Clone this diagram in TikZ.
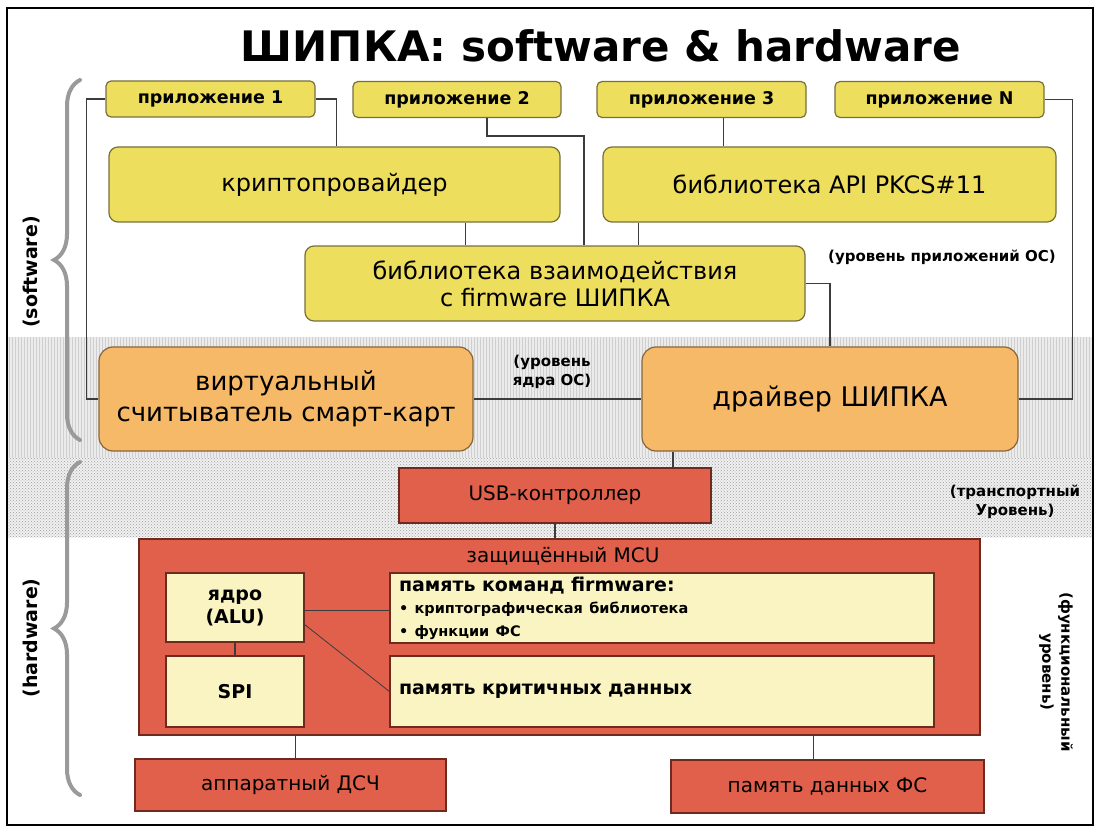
\documentclass[tikz,border=0pt]{standalone}
\usepackage{fontspec}
\setmainfont{DejaVu Sans}
\usetikzlibrary{shapes,arrows,positioning,calc,patterns,decorations.pathreplacing}
\definecolor{appyellow}{HTML}{EEDE5E}
\definecolor{yedge}{HTML}{77703E}
\definecolor{krnorange}{HTML}{F6B967}
\definecolor{oedge}{HTML}{86653C}
\definecolor{hwred}{HTML}{E1604B}
\definecolor{redge}{HTML}{6E2A1E}
\definecolor{memyellow}{HTML}{F9F4C1}
\definecolor{wire}{HTML}{3C3C3C}
\definecolor{bracegray}{HTML}{9A9A9A}

\begin{document}
\begin{tikzpicture}[x=1pt, y=-1pt,
    app/.style={draw=yedge, fill=appyellow, line width=1.2pt, rounded corners=5pt, minimum height=36pt, inner sep=0pt, font=\bfseries\fontsize{17.5}{20}\selectfont},
    lib/.style={draw=yedge, fill=appyellow, line width=1.2pt, rounded corners=9pt, minimum height=75pt, inner sep=0pt, align=center, font=\fontsize{24}{27}\selectfont},
    krn/.style={draw=oedge, fill=krnorange, line width=1.2pt, rounded corners=14pt, minimum height=104pt, inner sep=0pt, align=center, font=\fontsize{27}{31}\selectfont},
    hw/.style={draw=redge, fill=hwred, line width=1.2pt, inner sep=0pt, font=\fontsize{20}{24}\selectfont},
    mem/.style={draw=redge, fill=memyellow, line width=1.2pt, inner sep=0pt, font=\bfseries\fontsize{19}{23}\selectfont},
    note/.style={font=\bfseries\fontsize{15}{19}\selectfont, align=center, inner sep=0pt},
    side/.style={font=\bfseries\fontsize{19}{22}\selectfont, inner sep=0pt},
    link/.style={draw=wire, line width=1.2pt},
    curly/.style={draw=bracegray, line width=4pt, line cap=round, decorate, decoration={brace, amplitude=26pt}}]
\useasboundingbox (0,0) rectangle (1099,826);
\fill[white] (0,0) rectangle (1099,826);
\fill[gray!16] (8,337) rectangle (1092,458);
\fill[pattern=vertical lines, pattern color=gray!38] (8,337) rectangle (1092,458);
\fill[gray!12] (8,458) rectangle (1092,537);
\fill[pattern=crosshatch dots, pattern color=gray!75] (8,458) rectangle (1092,537);
\draw[line width=1.5pt] (7,8) rectangle (1093,825);

\node[font=\bfseries\fontsize{42}{48}\selectfont, anchor=base, inner sep=0pt] (title) at (601,62) {ШИПКА: software \& hardware};

\draw[curly] (80,440) -- (80,80);
\draw[curly] (80,795) -- (80,462);
\node[side, rotate=90] (sw) at (32,272) {(software)};
\node[side, rotate=90] (hwlbl) at (32,638) {(hardware)};

\node[app, minimum width=209pt] (app1) at (210.5,99) {приложение 1};
\node[app, minimum width=208pt] (app2) at (457,99.5) {приложение 2};
\node[app, minimum width=209pt] (app3) at (701.5,99.5) {приложение 3};
\node[app, minimum width=209pt] (appN) at (939.5,99.5) {приложение N};

\node[lib, minimum width=451pt] (crypto) at (334.5,184.5) {криптопровайдер};
\node[lib, minimum width=453pt] (pkcs) at (829.5,184.5) {библиотека API PKCS\#11};
\node[lib, minimum width=500pt] (iface) at (555,283.5) {библиотека взаимодействия\\с firmware ШИПКА};
\node[note] (applvl) at (942,257) {(уровень приложений ОС)};

\node[krn, minimum width=374pt, font=\fontsize{26}{31}\selectfont] (vreader) at (286,399) {виртуальный\\считыватель смарт-карт};
\node[krn, minimum width=376pt] (driver) at (830,399) {драйвер ШИПКА};
\node[note] (krnlvl) at (552,372) {(уровень\\ядра ОС)};

\node[hw, minimum width=312pt, minimum height=55pt] (usb) at (555,495.5) {USB-контроллер};
\node[note] (trlvl) at (1015,502) {(транспортный\\Уровень)};

\node[hw, minimum width=841pt, minimum height=196pt] (mcu) at (559.5,637) {};
\node[font=\fontsize{20}{24}\selectfont, inner sep=0pt] (mcutitle) at (563,556) {защищённый MCU};
\node[mem, minimum width=138pt, minimum height=69pt, align=center] (core) at (235,607.5) {ядро\\(ALU)};
\node[mem, minimum width=138pt, minimum height=71pt] (spi) at (235,691.5) {SPI};
\node[mem, minimum width=544pt, minimum height=70pt, text width=526pt, align=left] (fwmem) at (662,608) {память команд firmware:\\[0pt]{\fontsize{14.5}{22}\selectfont • криптографическая библиотека\\• функции ФС}};
\node[mem, minimum width=544pt, minimum height=71pt, text width=526pt, align=left] (critmem) at (662,691.5) {память критичных данных};
\node[note, rotate=-90] (fnlvl) at (1056,672) {(функциональный\\уровень)};

\node[hw, minimum width=311pt, minimum height=52pt] (rng) at (290.5,785) {аппаратный ДСЧ};
\node[hw, minimum width=313pt, minimum height=53pt] (fsmem) at (827.5,786.5) {память данных ФС};

\draw[link] (app1.west) -- ++(-19,0) |- (vreader.west);
\draw[link] (app1.east) -| ([xshift=21pt]app1.east |- crypto.north);
\draw[link] ([xshift=30pt]app2.south) -- ++(0,18) -| ([xshift=29pt]iface.north);
\draw[link] ([xshift=22pt]app3.south) -- ([xshift=22pt]app3.south |- pkcs.north);
\draw[link] (appN.east) -- ++(28,0) |- (driver.east);
\draw[link] ([xshift=131pt]crypto.south) -- ([xshift=131pt]crypto.south |- iface.north);
\draw[link] ([xshift=-191pt]pkcs.south) -- ([xshift=-191pt]pkcs.south |- iface.north);
\draw[link] (iface.east) -| (driver.north);
\draw[link] (vreader.east) -- (driver.west);
\draw[link] ([xshift=-157pt]driver.south) -- ([xshift=-157pt]driver.south |- usb.north);
\draw[link] (usb.south) -- (usb.south |- mcu.north);
\draw[link] (core.south) -- (spi.north);
\draw[link] ([yshift=-3pt]core.east) -- ([yshift=-3pt]core.east -| fwmem.west);
\draw[link, line width=0.8pt] ([yshift=-17pt]core.east) -- (critmem.west);
\draw[link] ([xshift=5pt]rng.north) -- ([xshift=5pt]rng.north |- mcu.south);
\draw[link] ([xshift=-14pt]fsmem.north) -- ([xshift=-14pt]fsmem.north |- mcu.south);
\end{tikzpicture}
\end{document}
